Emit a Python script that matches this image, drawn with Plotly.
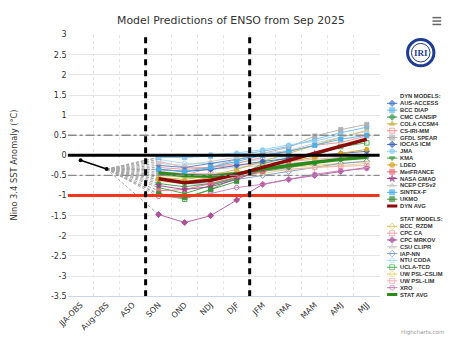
import plotly.graph_objects as go

# ---------------- data ----------------
categories = ["JJA-OBS", "Aug-OBS", "ASO", "SON", "OND", "NDJ", "DJF",
              "JFM", "FMA", "MAM", "AMJ", "MJJ"]
forecast_seasons = ["SON", "OND", "NDJ", "DJF", "JFM", "FMA", "MAM", "AMJ", "MJJ"]
obs_seasons = ["JJA-OBS", "Aug-OBS"]
obs_values = [-0.12, -0.34]
y_tick_values = [3, 2.5, 2, 1.5, 1, 0.5, 0, -0.5, -1, -1.5, -2, -2.5, -3, -3.5]
y_tick_labels = ["3", "2.5", "2", "1.5", "1", "0.5", "0", "-0.5", "-1", "-1.5",
                 "-2", "-2.5", "-3", "-3.5"]

# dynamical models (SON ... MJJ)
aus_access = [-0.25, -0.30, -0.20, -0.10, 0.00, 0.10, None, None, None]
bcc_diap = [-0.05, -0.05, -0.02, 0.02, 0.10, 0.22, 0.40, 0.56, 0.70]
cmc_cansip = [-0.70, -0.78, -0.70, -0.55, -0.40, -0.30, -0.20, -0.10, -0.02]
cola_ccsm4 = [-0.55, -0.60, -0.50, -0.35, -0.15, 0.05, 0.25, 0.45, 0.62]
cs_iri_mm = [-0.30, -0.35, -0.30, -0.20, -0.05, 0.10, 0.25, 0.32, 0.48]
gfdl_spear = [-0.45, -0.50, -0.30, -0.10, 0.05, 0.20, 0.48, 0.64, 0.77]
iocas_icm = [-0.35, -0.40, -0.35, -0.25, -0.15, -0.08, 0.00, 0.05, 0.10]
jma = [-0.05, -0.05, 0.02, 0.06, 0.14, 0.26, 0.35, 0.51, None]
kma = [-0.80, -0.95, -0.75, -0.55, None, None, None, None, None]
ldeo = [-0.60, -0.65, -0.55, -0.45, -0.30, -0.15, -0.05, 0.05, 0.15]
metfrance = [-0.88, -0.85, -0.70, -0.55, -0.40, -0.25, None, None, None]
nasa_gmao = [-0.75, -0.85, -0.78, -0.60, -0.35, -0.12, 0.05, None, None]
ncep_cfsv2 = [-0.20, -0.25, -0.15, -0.05, 0.05, 0.12, 0.30, 0.45, 0.60]
sintex_f = [-0.35, -0.40, -0.30, -0.15, 0.00, 0.10, 0.25, 0.40, 0.50]
ukmo = [-0.95, -1.05, -0.85, -0.65, None, None, None, None, None]
dyn_avg = [-0.58, -0.68, -0.62, -0.48, -0.30, -0.12, 0.06, 0.24, 0.40]

# statistical models (SON ... MJJ)
bcc_rzdm = [-0.50, -0.55, -0.50, -0.45, -0.35, -0.30, -0.25, -0.20, -0.15]
cpc_ca = [-0.15, -0.30, -0.30, -0.25, -0.20, -0.15, -0.10, -0.05, 0.00]
cpc_mrkov = [-1.47, -1.67, -1.50, -1.11, -0.72, -0.60, -0.50, -0.40, -0.30]
csu_clipr = [-0.35, -0.40, -0.35, -0.30, -0.25, -0.20, -0.15, -0.10, -0.05]
iap_nn = [-0.60, -0.70, -0.72, -0.60, -0.50, -0.40, -0.30, -0.20, -0.15]
ntu_coda = [-0.10, -0.20, -0.20, -0.18, -0.10, -0.05, 0.00, None, None]
ucla_tcd = [-0.97, -1.09, -0.85, -0.55, -0.20, -0.06, 0.00, 0.22, 0.31]
uw_psl_cslim = [-0.65, -0.70, -0.60, -0.50, -0.45, -0.35, -0.30, -0.25, -0.20]
uw_psl_lim = [-0.40, -0.45, -0.45, -0.42, -0.38, -0.35, -0.30, -0.28, -0.25]
xro = [-1.02, -1.05, -0.95, -0.80, -0.72, -0.60, -0.47, -0.38, -0.33]
stat_avg = [-0.44, -0.50, -0.52, -0.46, -0.34, -0.25, -0.17, -0.10, -0.05]

dyn_names = ["AUS-ACCESS", "BCC DIAP", "CMC CANSIP", "COLA CCSM4", "CS-IRI-MM",
             "GFDL SPEAR", "IOCAS ICM", "JMA", "KMA", "LDEO", "MetFRANCE",
             "NASA GMAO", "NCEP CFSv2", "SINTEX-F", "UKMO"]
dyn_series = [aus_access, bcc_diap, cmc_cansip, cola_ccsm4, cs_iri_mm, gfdl_spear,
              iocas_icm, jma, kma, ldeo, metfrance, nasa_gmao, ncep_cfsv2,
              sintex_f, ukmo]
stat_names = ["BCC_RZDM", "CPC CA", "CPC MRKOV", "CSU CLIPR", "IAP-NN", "NTU CODA",
              "UCLA-TCD", "UW PSL-CSLIM", "UW PSL-LIM", "XRO"]
stat_series = [bcc_rzdm, cpc_ca, cpc_mrkov, csu_clipr, iap_nn, ntu_coda, ucla_tcd,
               uw_psl_cslim, uw_psl_lim, xro]

# ---------------- styles ----------------
dyn_colors = ["#4a7cc8", "#6ab8f0", "#3a9a50", "#c9b23c", "#f08c8c", "#b0b0b0",
              "#4068b8", "#8dcdf5", "#3a9a3a", "#d9a520", "#e8707e", "#9a3f8a",
              "#c8c8c8", "#48b0e8", "#3f8f3f"]
dyn_symbols = ["diamond", "square", "diamond", "triangle-up", "square-open", "square",
               "diamond", "circle", "triangle-down", "circle", "square", "star",
               "triangle-up", "square", "square"]
stat_colors = ["#e0c860", "#f2a0a8", "#b0509a", "#c0c0c0", "#7a98c8", "#a8d8f4",
               "#4caf50", "#e4d478", "#f4a8b8", "#c878b8"]
stat_symbols = ["diamond-open", "square-open", "diamond", "triangle-up-open",
                "diamond-open", "circle-open", "square-open", "circle-open",
                "square-open", "circle-open"]
dyn_avg_color = "#8b0a0a"
stat_avg_color = "#2a8a1a"

FONT = "DejaVu Sans"
LFONT = "Liberation Sans"
W, H = 450, 344
L, R, T, B = 58, 378, 31.5, 300

fig = go.Figure()

# connectors from last observation to first forecast
for s in dyn_series + stat_series:
    fig.add_trace(go.Scatter(x=[obs_seasons[-1], forecast_seasons[0]],
                             y=[obs_values[-1], s[0]], mode="lines",
                             line=dict(color="#a8a8a8", width=1, dash="3px,2px"),
                             hoverinfo="skip", showlegend=False))

for s, c, sym in zip(stat_series, stat_colors, stat_symbols):
    fig.add_trace(go.Scatter(x=forecast_seasons, y=s, mode="lines+markers",
                             line=dict(color=c, width=0.9),
                             marker=dict(symbol=sym, size=4.5, color=c,
                                         line=dict(color=c, width=1)),
                             showlegend=False))
for s, c, sym in zip(dyn_series, dyn_colors, dyn_symbols):
    fig.add_trace(go.Scatter(x=forecast_seasons, y=s, mode="lines+markers",
                             line=dict(color=c, width=0.9),
                             marker=dict(symbol=sym, size=4.5, color=c,
                                         line=dict(color=c, width=0.5)),
                             showlegend=False))

fig.add_trace(go.Scatter(x=forecast_seasons, y=stat_avg, mode="lines",
                         line=dict(color=stat_avg_color, width=3.5), showlegend=False))
fig.add_trace(go.Scatter(x=forecast_seasons, y=dyn_avg, mode="lines",
                         line=dict(color=dyn_avg_color, width=3.5), showlegend=False))
fig.add_trace(go.Scatter(x=obs_seasons, y=obs_values, mode="lines+markers",
                         line=dict(color="black", width=1.5),
                         marker=dict(size=4, color="black"), showlegend=False))

# reference lines
shapes = []
shapes.append(dict(type="line", xref="x", yref="y", x0=-0.5, x1=11.5, y0=0.5, y1=0.5,
                   line=dict(color="#8a8a8a", width=1.3, dash="dashdot"), layer="above"))
shapes.append(dict(type="line", xref="x", yref="y", x0=-0.5, x1=11.5, y0=-0.5, y1=-0.5,
                   line=dict(color="#8a8a8a", width=1.3, dash="dashdot"), layer="above"))
shapes.append(dict(type="line", xref="x", yref="y", x0=-0.5, x1=11.5, y0=0, y1=0,
                   line=dict(color="black", width=3), layer="above"))
shapes.append(dict(type="line", xref="x", yref="y", x0=-0.5, x1=11.5, y0=-1, y1=-1,
                   line=dict(color="#f2361c", width=3), layer="above"))
for xb in [2.5, 6.5]:
    shapes.append(dict(type="line", xref="x", yref="y", x0=xb, x1=xb, y0=-3.5, y1=3,
                       line=dict(color="black", width=3, dash="6px,5px"), layer="above"))

# ---------------- custom legend (pixel overlay axis) ----------------
annotations = []
def txt(x, y, s, size=5.8, bold=True, color="#333333", anchor="left", family=LFONT):
    annotations.append(dict(xref="x2", yref="y2", x=x, y=y, text=("<b>%s</b>" % s) if bold else s,
                            showarrow=False, xanchor=anchor, yanchor="middle",
                            xshift=0, font=dict(family=family, size=size, color=color)))

LX0, LX1, LXM, LTX = 385.5, 396, 390.7, 396.5
txt(LTX, 94.5, "DYN MODELS:")
y = 102.0
for n, c, sym in zip(dyn_names, dyn_colors, dyn_symbols):
    fig.add_trace(go.Scatter(x=[LX0, LXM, LX1], y=[y, y, y], xaxis="x2", yaxis="y2",
                             mode="lines+markers", line=dict(color=c, width=1),
                             marker=dict(symbol=sym, size=[0, 5, 0], color=c,
                                         line=dict(color=c, width=1)),
                             hoverinfo="skip", showlegend=False, cliponaxis=False))
    txt(LTX, y, n)
    y += 7.03
fig.add_trace(go.Scatter(x=[LX0, LX1], y=[y, y], xaxis="x2", yaxis="y2", mode="lines",
                         line=dict(color=dyn_avg_color, width=3), hoverinfo="skip",
                         showlegend=False))
txt(LTX, y, "DYN AVG")

txt(LTX, 220.7, "STAT MODELS:")
y = 228.3
for n, c, sym in zip(stat_names, stat_colors, stat_symbols):
    fig.add_trace(go.Scatter(x=[LX0, LXM, LX1], y=[y, y, y], xaxis="x2", yaxis="y2",
                             mode="lines+markers", line=dict(color=c, width=1),
                             marker=dict(symbol=sym, size=[0, 5, 0], color=c,
                                         line=dict(color=c, width=1)),
                             hoverinfo="skip", showlegend=False, cliponaxis=False))
    txt(LTX, y, n)
    y += 7.0
fig.add_trace(go.Scatter(x=[LX0, LX1], y=[y, y], xaxis="x2", yaxis="y2", mode="lines",
                         line=dict(color=stat_avg_color, width=3), hoverinfo="skip",
                         showlegend=False))
txt(LTX, y, "STAT AVG")

# title, axis title, credits
txt(226, 17, "Model Predictions of ENSO from Sep 2025", size=10.9, bold=False,
    color="#333333", anchor="center", family=FONT)
annotations.append(dict(xref="x2", yref="y2", x=12, y=165, text="Nino 3.4 SST Anomaly (°C)",
                        textangle=-90, showarrow=False, xanchor="center", yanchor="middle",
                        xshift=-9, font=dict(family=FONT, size=8.3, color="#333333")))
txt(446, 337, "Highcharts.com", size=5.5, bold=False, color="#999999", anchor="right",
    family=FONT)

# IRI logo
shapes.append(dict(type="circle", xref="x2", yref="y2", x0=406.5, x1=433.5, y0=36.5, y1=63.5,
                   line=dict(color="#1f3d8f", width=3), fillcolor="white"))
shapes.append(dict(type="circle", xref="x2", yref="y2", x0=410.5, x1=429.5, y0=40.5, y1=59.5,
                   line=dict(color="#1f3d8f", width=1), fillcolor="white"))
annotations.append(dict(xref="x2", yref="y2", x=420, y=50.5, text="<b>IRI</b>", showarrow=False,
                        xanchor="center", yanchor="middle",
                        font=dict(family="Liberation Serif", size=9, color="#1f3d8f")))
# menu icon
for yy in [14, 17.5, 21]:
    shapes.append(dict(type="line", xref="x2", yref="y2", x0=432, x1=441, y0=yy, y1=yy,
                       line=dict(color="#666666", width=1.5)))

fig.update_layout(
    width=W, height=H,
    margin=dict(l=0, r=0, t=0, b=0),
    paper_bgcolor="white", plot_bgcolor="rgba(0,0,0,0)",
    font=dict(family=FONT, color="#333333"),
    showlegend=False,
    shapes=shapes, annotations=annotations,
    xaxis=dict(domain=[L / W, R / W], type="category", categoryorder="array",
               categoryarray=categories, range=[-0.5, 11.5], tickson="boundaries",
               showgrid=True, gridcolor="#e6e6e6", griddash="dot", gridwidth=1,
               ticks="", tickangle=-45, tickfont=dict(size=8, color="#333333"),
               showline=True, linecolor="#ccd6eb", linewidth=1, zeroline=False,
               fixedrange=True),
    yaxis=dict(domain=[1 - B / H, 1 - T / H], range=[-3.5, 3], tickvals=y_tick_values,
               ticktext=y_tick_labels, showgrid=True, gridcolor="#e6e6e6", gridwidth=1,
               zeroline=False, tickfont=dict(size=8, color="#333333"), ticks="",
               fixedrange=True),
    xaxis2=dict(domain=[0, 1], range=[0, W], visible=False, anchor="y2", fixedrange=True),
    yaxis2=dict(domain=[0, 1], range=[H, 0], visible=False, anchor="x2", fixedrange=True),
)

fig.write_html("out.html")
